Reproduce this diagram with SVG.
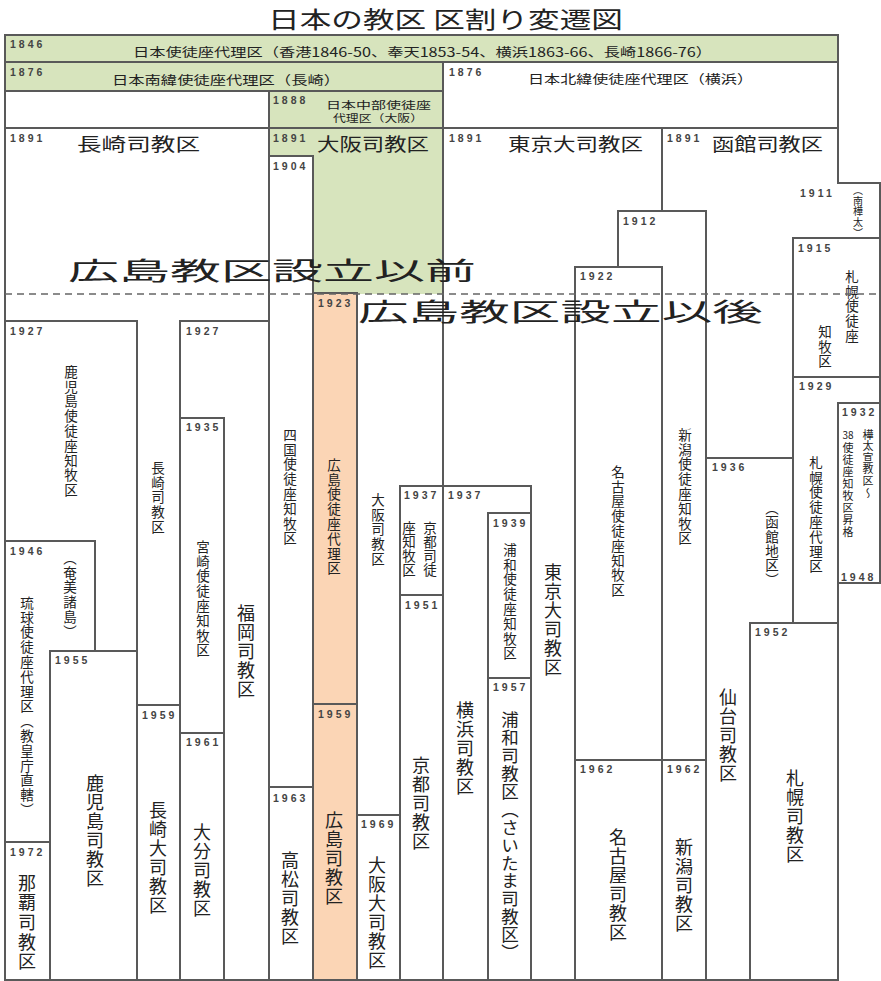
<svg xmlns="http://www.w3.org/2000/svg" width="881" height="981" viewBox="0 0 881 981">
<style>
.b{stroke:#595959;stroke-width:2;fill:#fff}
.g{fill:#d7e4bd}
.o{fill:#fbd5b5}
.gf{fill:#d7e4bd;stroke:none}
.yr{font-family:"Liberation Sans",sans-serif;font-size:10.5px;font-weight:bold;fill:#444;letter-spacing:3px}
.h{font-family:"Noto Sans CJK JP","Noto Sans CJK SC",sans-serif;fill:#222}
.v{font-family:"Noto Sans CJK JP","Noto Sans CJK SC",sans-serif;fill:#222;writing-mode:vertical-rl;font-size:13.5px;letter-spacing:1.3px}
.V{font-family:"Noto Sans CJK JP","Noto Sans CJK SC",sans-serif;fill:#222;writing-mode:vertical-rl;font-size:18px;letter-spacing:1px}
.dash{stroke:#666;stroke-width:1.5;stroke-dasharray:7 5;fill:none}
</style>
<rect width="881" height="981" fill="#fff"/>
<g id="title"><text class="h" x="268" y="28" font-size="23" textLength="355" lengthAdjust="spacingAndGlyphs">日本の教区 区割り変遷図</text></g>

<g id="n1846"><rect class="b g" x="5" y="35" width="833" height="27"/><text class="yr" x="10" y="48">1846</text><text class="h" x="133" y="57" font-size="12.5" textLength="579" lengthAdjust="spacingAndGlyphs">日本使徒座代理区（香港1846-50、奉天1853-54、横浜1863-66、長崎1866-76）</text></g>
<g id="n1876s"><rect class="b g" x="5" y="62" width="438" height="29"/><text class="yr" x="10" y="76">1876</text><text class="h" x="112" y="85" font-size="12.5" textLength="228" lengthAdjust="spacingAndGlyphs">日本南緯使徒座代理区（長崎）</text></g>
<g id="n1876n"><rect class="b" x="443" y="62" width="395" height="66"/><text class="yr" x="449" y="76">1876</text><text class="h" x="528" y="84" font-size="12.5" textLength="225" lengthAdjust="spacingAndGlyphs">日本北緯使徒座代理区（横浜）</text></g>
<g id="frame"><line x1="5" y1="90" x2="5" y2="129" stroke="#595959" stroke-width="2"/></g>
<g id="n1888"><rect class="b g" x="269" y="91" width="174" height="37"/><text class="yr" x="273" y="104">1888</text><text class="h" x="326" y="108.5" font-size="10" textLength="105" lengthAdjust="spacingAndGlyphs">日本中部使徒座</text><text class="h" x="333" y="122" font-size="10" textLength="90" lengthAdjust="spacingAndGlyphs">代理区（大阪）</text></g>

<g id="nagasaki1891"><rect class="b" x="5" y="128" width="264" height="852"/><text class="yr" x="10" y="142">1891</text><text class="h" x="77" y="151" font-size="18" textLength="123" lengthAdjust="spacingAndGlyphs">長崎司教区</text><text class="v" x="158" y="461">長崎司教区</text></g>
<g id="kagoshima1927"><rect class="b" x="5" y="321" width="132" height="659"/><text class="yr" x="10" y="335">1927</text><text class="v" x="71" y="365">鹿児島使徒座知牧区</text></g>
<g id="ryukyu1946"><rect class="b" x="5" y="541" width="90" height="439"/><text class="yr" x="10" y="555">1946</text><text class="v" x="70" y="551">（奄美諸島）</text><text class="v" x="27" y="596">琉球使徒座代理区（教皇庁直轄）</text></g>
<g id="naha1972"><rect class="b" x="5" y="842" width="45" height="138"/><text class="yr" x="10" y="856">1972</text><text class="V" x="27" y="874" style="letter-spacing:1.6px">那覇司教区</text></g>
<g id="kagoshima1955"><rect class="b" x="50" y="651" width="87" height="329"/><text class="yr" x="55" y="664">1955</text><text class="V" x="95" y="774">鹿児島司教区</text></g>
<g id="nagasaki1959"><rect class="b" x="137" y="705" width="43" height="275"/><text class="yr" x="142" y="719">1959</text><text class="V" x="158" y="801">長崎大司教区</text></g>
<g id="fukuoka1927"><rect class="b" x="180" y="321" width="89" height="659"/><text class="yr" x="186" y="335">1927</text><text class="V" x="246" y="604">福岡司教区</text></g>
<g id="miyazaki1935"><rect class="b" x="180" y="418" width="44" height="562"/><text class="yr" x="186" y="431">1935</text><text class="v" x="203" y="540">宮崎使徒座知牧区</text></g>
<g id="oita1961"><rect class="b" x="180" y="733" width="44" height="247"/><text class="yr" x="186" y="746">1961</text><text class="V" x="202" y="823">大分司教区</text></g>

<g id="osaka1891"><rect class="b" x="269" y="128" width="174" height="852"/><rect class="gf" x="270" y="129" width="172" height="165"/><text class="yr" x="273" y="142">1891</text><text class="h" x="317" y="151" font-size="18" textLength="112" lengthAdjust="spacingAndGlyphs">大阪司教区</text><text class="v" x="378" y="493">大阪司教区</text></g>
<g id="shikoku1904"><rect class="b" x="269" y="156" width="44" height="824"/><text class="yr" x="273" y="170">1904</text><text class="v" x="290" y="428">四国使徒座知牧区</text></g>
<g id="takamatsu1963"><rect class="b" x="269" y="787" width="44" height="193"/><text class="yr" x="273" y="802">1963</text><text class="V" x="290" y="851">高松司教区</text></g>
<g id="hiroshima1923"><rect class="b o" x="313" y="293" width="44" height="687"/><text class="yr" x="318" y="307">1923</text><text class="v" x="334" y="458">広島使徒座代理区</text></g>
<g id="hiroshima1959"><rect class="b o" x="313" y="704" width="44" height="276"/><text class="yr" x="318" y="718">1959</text><text class="V" x="334" y="811">広島司教区</text></g>
<g id="osaka1969"><rect class="b" x="357" y="815" width="43" height="165"/><text class="yr" x="361" y="828">1969</text><text class="V" x="377" y="856">大阪大司教区</text></g>
<g id="kyoto1937"><rect class="b" x="400" y="486" width="43" height="494"/><text class="yr" x="404" y="499">1937</text><text class="v" x="430" y="521" style="letter-spacing:0.5px">京都司徒</text><text class="v" x="409" y="521" style="letter-spacing:0.5px">座知牧区</text></g>
<g id="kyoto1951"><rect class="b" x="400" y="595" width="43" height="385"/><text class="yr" x="405" y="609">1951</text><text class="V" x="421" y="756">京都司教区</text></g>

<g id="tokyo1891"><rect class="b" x="443" y="128" width="219" height="852"/><text class="yr" x="449" y="142">1891</text><text class="h" x="508" y="151" font-size="18" textLength="135" lengthAdjust="spacingAndGlyphs">東京大司教区</text><text class="V" x="553" y="563">東京大司教区</text></g>
<g id="yokohama1937"><rect class="b" x="443" y="486" width="88" height="494"/><text class="yr" x="448" y="499">1937</text><text class="V" x="465" y="701">横浜司教区</text></g>
<g id="urawa1939"><rect class="b" x="488" y="513" width="43" height="467"/><text class="yr" x="493" y="527">1939</text><text class="v" x="510" y="543">浦和使徒座知牧区</text></g>
<g id="urawa1957"><rect class="b" x="488" y="678" width="43" height="302"/><text class="yr" x="493" y="691">1957</text><text class="V" x="510" y="711" style="font-size:17.5px;letter-spacing:0.4px">浦和司教区（さいたま司教区）</text></g>

<g id="hakodate1891"><path class="b" d="M662,128 H838 V183 H880 V583 H838 V980 H662 Z"/><text class="yr" x="667" y="142">1891</text><text class="h" x="712" y="151" font-size="18" textLength="111" lengthAdjust="spacingAndGlyphs">函館司教区</text></g>
<g id="karafuto1911"><text class="yr" x="800" y="197">1911</text><text class="v" x="858" y="185" style="font-size:10px;letter-spacing:0.75px">（南樺太）</text></g>
<g id="niigata1912"><rect class="b" x="618" y="211" width="88" height="769"/><text class="yr" x="623" y="225">1912</text><text class="v" x="685" y="428">新潟使徒座知牧区</text></g>
<g id="nagoya1922"><rect class="b" x="575" y="267" width="87" height="713"/><text class="yr" x="580" y="280">1922</text><text class="v" x="618" y="465">名古屋使徒座知牧区</text></g>
<g id="nagoya1962"><rect class="b" x="575" y="760" width="87" height="220"/><text class="yr" x="580" y="773">1962</text><text class="V" x="618" y="828">名古屋司教区</text></g>
<g id="niigata1962"><rect class="b" x="662" y="760" width="44" height="220"/><text class="yr" x="667" y="773">1962</text><text class="V" x="684" y="838">新潟司教区</text></g>
<g id="sapporo1915"><rect class="b" x="793" y="238" width="87" height="139"/><text class="yr" x="798" y="252">1915</text><text class="v" x="852" y="270">札幌使徒座</text><text class="v" x="825" y="325">知牧区</text></g>
<g id="sapporo1929"><path class="b" d="M793,377 H880 V583 H838 V623 H793 Z"/><text class="yr" x="799" y="390">1929</text><text class="v" x="816" y="456">札幌使徒座代理区</text></g>
<g id="karafuto1932"><rect class="b" x="838" y="403" width="42" height="180"/><text class="yr" x="842" y="416">1932</text><text class="h" x="848" y="439" font-size="10" text-anchor="middle">38</text><text class="v" x="868" y="429" style="font-size:11px;letter-spacing:0.6px">樺太宣教区〜</text><text class="v" x="848" y="442" style="font-size:11px;letter-spacing:1px">使徒座知牧区昇格</text><text class="yr" x="841" y="581">1948</text></g>
<g id="hakodate1936"><rect class="b" x="706" y="458" width="87" height="522"/><text class="yr" x="712" y="471">1936</text><text class="v" x="772" y="501" style="letter-spacing:0.9px">（函館地区）</text><text class="V" x="728" y="688">仙台司教区</text></g>
<g id="sapporo1952"><rect class="b" x="750" y="623" width="88" height="357"/><text class="yr" x="755" y="636">1952</text><text class="V" x="795" y="769">札幌司教区</text></g>

<g id="connectors"><line class="dash" x1="5" y1="294" x2="880" y2="294"/></g>
<g id="annotations"><text class="h" x="68" y="280" font-size="25" textLength="408" lengthAdjust="spacingAndGlyphs">広島教区設立以前</text><text class="h" x="358" y="321" font-size="25" textLength="405" lengthAdjust="spacingAndGlyphs">広島教区設立以後</text></g>
</svg>
